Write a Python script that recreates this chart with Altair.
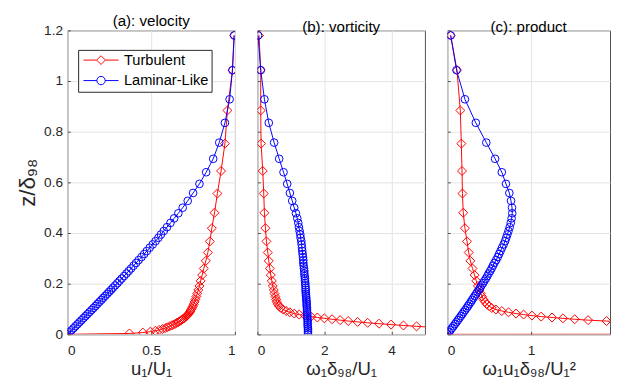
import altair as alt
import pandas as pd

SERIES = ["Turbulent", "Laminar-Like"]
COLORS = ["#ff0000", "#0000ff"]
MARKERS = ["diamond", "circle"]
MSIZE = [85, 62]

# ---- Turbulent (red diamonds) ----
red_z = [0, 0.0035, 0.007, 0.0105, 0.014, 0.0175, 0.021, 0.0245, 0.028, 0.0315,
         0.035, 0.0385, 0.042, 0.0455, 0.049, 0.0525, 0.056, 0.0595, 0.063, 0.0665,
         0.070, 0.074, 0.078, 0.082, 0.087, 0.092, 0.098, 0.104, 0.111, 0.119,
         0.128, 0.138, 0.149, 0.161, 0.175, 0.191, 0.211, 0.234, 0.260, 0.290,
         0.323, 0.367, 0.419, 0.480, 0.556, 0.645, 0.753, 0.884, 1.043, 1.18]
red_u = [0, 0.37, 0.45, 0.495, 0.525, 0.548, 0.567, 0.583, 0.597, 0.610,
         0.622, 0.633, 0.644, 0.654, 0.663, 0.672, 0.680, 0.688, 0.695, 0.702,
         0.708, 0.714, 0.719, 0.724, 0.729, 0.734, 0.739, 0.744, 0.749, 0.754,
         0.759, 0.764, 0.769, 0.775, 0.781, 0.788, 0.795, 0.804, 0.814, 0.826,
         0.838, 0.850, 0.862, 0.878, 0.895, 0.917, 0.940, 0.955, 0.985, 0.995]
red_w = [60, 30, 17, 12, 9.5, 7.8, 6.6, 5.8, 5.2, 4.75,
         4.36, 3.99, 3.63, 3.29, 2.99, 2.71, 2.47, 2.23, 2.00, 1.79,
         1.60, 1.42, 1.25, 1.10, 0.97, 0.86, 0.77, 0.70, 0.65, 0.61,
         0.58, 0.56, 0.54, 0.51, 0.49, 0.46, 0.43, 0.40, 0.37, 0.34,
         0.31, 0.27, 0.24, 0.21, 0.19, 0.16, 0.11, 0.10, 0.10, 0.05]
red_p = [0, 22, 14, 10, 8.0, 6.6, 5.6, 4.8, 4.2, 3.7,
         3.3, 2.95, 2.65, 2.4, 2.15, 1.90, 1.68, 1.52, 1.38, 1.25,
         1.12, 1.01, 0.91, 0.82, 0.73, 0.65, 0.58, 0.53, 0.50, 0.47,
         0.45, 0.43, 0.415, 0.40, 0.385, 0.365, 0.345, 0.325, 0.30, 0.275,
         0.255, 0.235, 0.21, 0.19, 0.18, 0.175, 0.167, 0.155, 0.115, 0.04]

# ---- Laminar-Like (blue circles) ----
blue_z = [0, 0.008, 0.016, 0.024, 0.032, 0.040, 0.048, 0.056, 0.064, 0.072,
          0.080, 0.088, 0.096, 0.104, 0.112, 0.120, 0.128, 0.136, 0.144, 0.152,
          0.160, 0.168, 0.176, 0.184, 0.193, 0.202, 0.211, 0.220, 0.230, 0.240,
          0.250, 0.260, 0.271, 0.282, 0.293, 0.305, 0.317, 0.329, 0.342, 0.355,
          0.368, 0.381, 0.394, 0.408, 0.423, 0.440, 0.458, 0.478, 0.500, 0.527,
          0.558, 0.594, 0.640, 0.693, 0.757, 0.835, 0.928, 1.043, 1.18]
blue_u = [0, 0.012, 0.024, 0.036, 0.048, 0.060, 0.072, 0.084, 0.096, 0.108,
          0.120, 0.132, 0.144, 0.156, 0.168, 0.179, 0.191, 0.203, 0.214, 0.226,
          0.238, 0.249, 0.261, 0.272, 0.285, 0.298, 0.311, 0.324, 0.338, 0.352,
          0.366, 0.380, 0.395, 0.410, 0.425, 0.442, 0.458, 0.474, 0.491, 0.509,
          0.526, 0.543, 0.558, 0.575, 0.594, 0.615, 0.637, 0.662, 0.688, 0.718,
          0.750, 0.788, 0.828, 0.870, 0.906, 0.940, 0.968, 0.985, 0.995]
blue_w = [1.51, 1.51, 1.51, 1.51, 1.50, 1.50, 1.50, 1.50, 1.49, 1.49,
          1.49, 1.48, 1.48, 1.48, 1.47, 1.47, 1.47, 1.46, 1.46, 1.45,
          1.45, 1.44, 1.44, 1.44, 1.43, 1.43, 1.42, 1.42, 1.41, 1.40,
          1.40, 1.39, 1.38, 1.37, 1.37, 1.36, 1.35, 1.34, 1.33, 1.32,
          1.31, 1.29, 1.28, 1.26, 1.24, 1.22, 1.19, 1.15, 1.10, 1.04,
          0.97, 0.89, 0.78, 0.65, 0.50, 0.34, 0.21, 0.10, 0.02]
blue_p = [0, 0.018, 0.036, 0.054, 0.072, 0.090, 0.108, 0.126, 0.143, 0.161,
          0.179, 0.195, 0.213, 0.231, 0.247, 0.263, 0.281, 0.296, 0.312, 0.328,
          0.345, 0.359, 0.376, 0.392, 0.408, 0.426, 0.442, 0.460, 0.477, 0.493,
          0.512, 0.528, 0.545, 0.562, 0.582, 0.601, 0.618, 0.635, 0.653, 0.672,
          0.689, 0.703, 0.716, 0.730, 0.744, 0.757, 0.767, 0.775, 0.772, 0.760,
          0.740, 0.700, 0.650, 0.570, 0.465, 0.340, 0.210, 0.110, 0.040]

y_ticks = [0, 0.2, 0.4, 0.6, 0.8, 1.0, 1.2]

FONT = "Liberation Sans"
TXT = "#262626"

# legend glyphs: short line with the marker in its middle (unit coords, scaled by symbol size)
LEGEND_GLYPHS = [
    "M-4,0L-1,0M1,0L4,0M-1,0L0,-1L1,0L0,1Z",
    "M-4,0L-0.95,0M0.95,0L4,0M-0.95,0A0.95,0.95,0,1,1,0.95,0A0.95,0.95,0,1,1,-0.95,0Z",
]


def make_df(xr, xb):
    rows = []
    for i, (z, x) in enumerate(zip(red_z, xr)):
        rows.append({"series": "Turbulent", "i": i, "z": z, "x": x})
    for i, (z, x) in enumerate(zip(blue_z, xb)):
        rows.append({"series": "Laminar-Like", "i": i, "z": z, "x": x})
    return pd.DataFrame(rows)


def panel(df, xdom, xvals, width, title, xtitle, first):
    if first:
        yaxis = alt.Axis(values=y_ticks, format="~g", title="z/δ₉₈", titleFontSize=23,
                         titlePadding=4, labelPadding=5, tickSize=3, offset=-3,
                         labelFontSize=14)
    else:
        yaxis = alt.Axis(values=y_ticks, labels=False, title=None, tickSize=3, offset=-3,
                         minExtent=0)
    x = alt.X("x:Q", scale=alt.Scale(domain=xdom, nice=False, zero=False),
              axis=alt.Axis(values=xvals, format="~g", title=xtitle, titleFontSize=19,
                            tickSize=3, offset=-3, labelPadding=10, titlePadding=2,
                            labelFontSize=14))
    y = alt.Y("z:Q", scale=alt.Scale(domain=[0, 1.2], nice=False), axis=yaxis)

    layers = []
    for s, c, m, sz in zip(SERIES, COLORS, MARKERS, MSIZE):
        base = alt.Chart(df).transform_filter(alt.datum.series == s)
        layers.append(base.mark_line(clip=True, strokeWidth=1, color=c).encode(
            x=x, y=y, order=alt.Order("i:Q")))
        layers.append(base.mark_point(clip=True, filled=False, strokeWidth=1, color=c,
                                      shape=m, size=sz, opacity=1).encode(x=x, y=y))
    if first:
        legend = alt.Legend(orient="none", legendX=11, legendY=20, title=None,
                            direction="vertical", labelFont=FONT, labelFontSize=15,
                            labelColor="#000000", strokeColor="#262626", fillColor="white",
                            padding=3, rowPadding=5, symbolSize=81, symbolStrokeWidth=1,
                            symbolOffset=13, labelOffset=16, symbolOpacity=1,
                            symbolFillColor="white")
        layers.append(alt.Chart(df).mark_point(clip=True, filled=False, opacity=0).encode(
            x=x, y=y,
            color=alt.Color("series:N", scale=alt.Scale(domain=SERIES, range=COLORS),
                            legend=legend),
            shape=alt.Shape("series:N", scale=alt.Scale(domain=SERIES, range=LEGEND_GLYPHS),
                            legend=legend)))
    return alt.layer(*layers).properties(
        width=width, height=312,
        title=alt.TitleParams(title, fontSize=15.5, font=FONT, fontWeight="normal",
                              color="#000000", offset=-5.5, frame="group"))


pa = panel(make_df(red_u, blue_u), [0, 1], [0, 0.5, 1], 172, "(a): velocity", "u₁/U₁", True)
pb = panel(make_df(red_w, blue_w), [0, 5], [0, 2, 4], 172, "(b): vorticity", "ω₁δ₉₈/U₁", False)
pc = panel(make_df(red_p, blue_p), [0, 167 / 86], [0, 1], 167, "(c): product", "ω₁u₁δ₉₈/U₁²", False)

chart = alt.hconcat(pa, pb, pc, spacing=21).configure(
    padding={"left": 9, "right": 0, "top": 0, "bottom": 0}
).configure_view(
    stroke="#4d4d4d", strokeWidth=1
).configure_axis(
    labelFont=FONT, titleFont=FONT, labelColor=TXT, titleColor=TXT,
    titleFontWeight="normal", domain=False, tickColor="#4d4d4d",
    gridColor="#e3e3e3", grid=True, labelFontSize=14
).configure_legend(
    labelFont=FONT, labelFontSize=15, labelColor="#000000"
)

chart.save("out.html", embed_options={"renderer": "svg", "actions": False})
